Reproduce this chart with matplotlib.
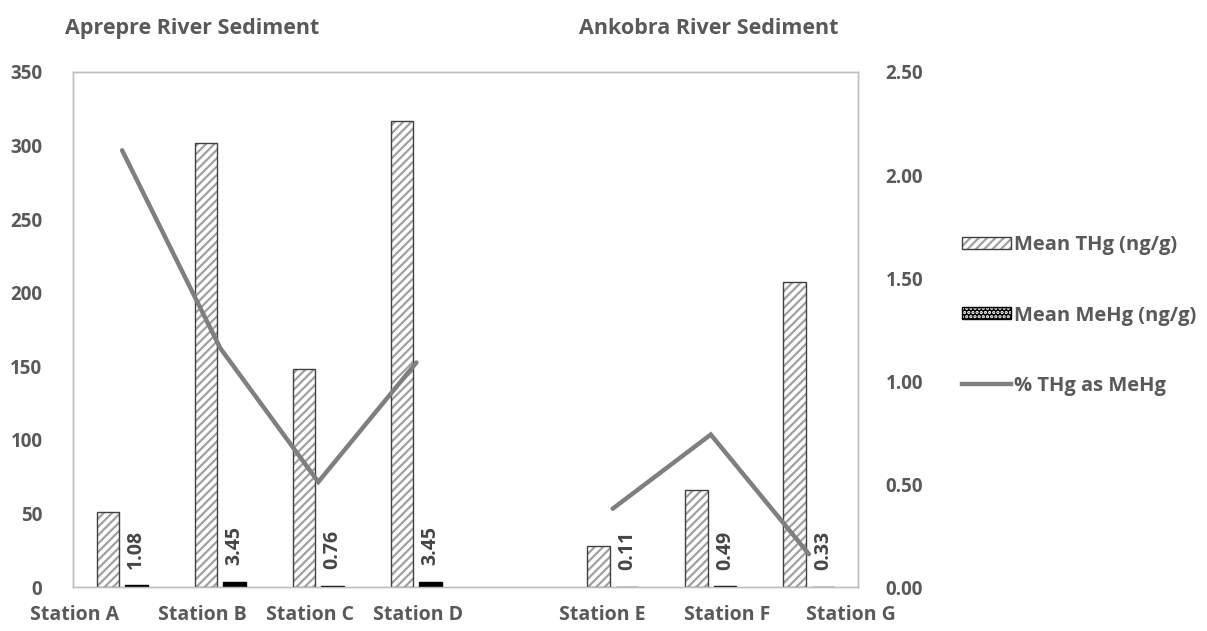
import matplotlib
matplotlib.use("Agg")
import matplotlib.pyplot as plt
from matplotlib.patches import Patch
from matplotlib.lines import Line2D
from matplotlib.legend_handler import HandlerTuple
import numpy as np

# ---- data ----
stations = ["Station A", "Station B", "Station C", "Station D",
            "Station E", "Station F", "Station G"]
# category slot of each station (slot 4 is an empty spacer between rivers)
slots = [0, 1, 2, 3, 5, 6, 7]
mean_thg = [51, 302, 148, 317, 28, 66, 207]
mean_mehg = [1.08, 3.45, 0.76, 3.45, 0.11, 0.49, 0.33]
pct_thg_as_mehg = [2.12, 1.16, 0.51, 1.09, 0.38, 0.74, 0.16]
left_ticks = [0, 50, 100, 150, 200, 250, 300, 350]
right_ticks = [0.0, 0.5, 1.0, 1.5, 2.0, 2.5]
river_titles = ["Aprepre River Sediment", "Ankobra River Sediment"]
series_names = ["Mean THg (ng/g)", "Mean MeHg (ng/g)", "% THg as MeHg"]

# ---- style ----
plt.rcParams["font.family"] = ["Open Sans", "DejaVu Sans"]
plt.rcParams["hatch.linewidth"] = 1.6
TEXT = "#595959"
FRAME = "#bfbfbf"
LINE = "#7f7f7f"

fig = plt.figure(figsize=(12.07, 6.31), dpi=100)
ax = fig.add_axes([0.0605, 0.0697, 0.6503, 0.8162])

x = np.array(slots, dtype=float)
w = 0.23
off = 0.145

# hatched THg bars: hatch pass then dark outline pass
ax.bar(x - off, mean_thg, width=w, color="white", edgecolor="#a0a0a0",
       hatch="////", linewidth=0, zorder=2)
ax.bar(x - off, mean_thg, width=w, fill=False, edgecolor="#404040",
       linewidth=1.0, zorder=3)
# MeHg bars
ax.bar(x + off, mean_mehg, width=w, color="black", edgecolor="black",
       linewidth=1.0, zorder=3)

# rotated value labels above MeHg bars
for xi, v in zip(x, mean_mehg):
    ax.annotate(f"{v:.2f}", xy=(xi + off, v), xytext=(0, 12),
                textcoords="offset points", rotation=90, ha="center",
                va="bottom", fontsize=14, fontweight="bold",
                color="#454545", zorder=4)

ax.set_xlim(-0.5, 7.5)
ax.set_ylim(0, 350)
ax.set_yticks(left_ticks)
ax.set_yticklabels([str(t) for t in left_ticks])

# station labels sit slightly off their category centres
label_shift = [-0.48, -0.185, -0.084, 0.017, -0.11, 0.167, 0.43]
ax.set_xticks([s + d for s, d in zip(slots, label_shift)])
ax.set_xticklabels(stations)
ax.tick_params(axis="y", length=0, labelsize=13.5, colors=TEXT, pad=22)
ax.tick_params(axis="x", length=0, labelsize=14, colors=TEXT, pad=13)
for lab in ax.get_xticklabels() + ax.get_yticklabels():
    lab.set_fontweight("bold")
for sp in ax.spines.values():
    sp.set_color(FRAME)
    sp.set_linewidth(1.0)

# secondary axis for the percentage line; the spacer slot breaks the line
pct_line = np.full(8, np.nan)
pct_line[slots] = pct_thg_as_mehg
ax2 = ax.twinx()
ax2.plot(np.arange(8), pct_line, color=LINE, linewidth=3.2,
         solid_capstyle="round", solid_joinstyle="miter", zorder=5)
ax2.set_ylim(0, 2.5)
ax2.set_yticks(right_ticks)
ax2.set_yticklabels([f"{t:.2f}" for t in right_ticks])
ax2.tick_params(axis="y", length=0, labelsize=13.5, colors=TEXT, pad=20)
for lab in ax2.get_yticklabels():
    lab.set_fontweight("bold")
for sp in ax2.spines.values():
    sp.set_color(FRAME)
    sp.set_linewidth(1.0)

# river titles
fig.text(0.054, 0.955, river_titles[0], ha="left", va="center",
         fontsize=15.5, fontweight="bold", color=TEXT)
fig.text(0.480, 0.955, river_titles[1], ha="left", va="center",
         fontsize=15.5, fontweight="bold", color=TEXT)

# legend
h_thg = (Patch(facecolor="white", edgecolor="#a0a0a0", hatch="////", linewidth=0),
         Patch(fill=False, edgecolor="#404040", linewidth=1.0))
h_mehg = (Patch(facecolor="black", edgecolor="white", hatch="....", linewidth=0),
          Patch(fill=False, edgecolor="black", linewidth=1.0))
h_pct = Line2D([], [], color=LINE, linewidth=3.2)
leg = fig.legend([h_thg, h_mehg, h_pct], series_names,
                 handler_map={tuple: HandlerTuple(ndivide=1, pad=0)},
                 loc="center left", bbox_to_anchor=(0.782, 0.5),
                 frameon=False, fontsize=14.5, handlelength=2.45,
                 handleheight=0.55, handletextpad=0.12, labelspacing=2.5)
for t in leg.get_texts():
    t.set_color(TEXT)
    t.set_fontweight("bold")

fig.savefig("out.png", dpi=100)
